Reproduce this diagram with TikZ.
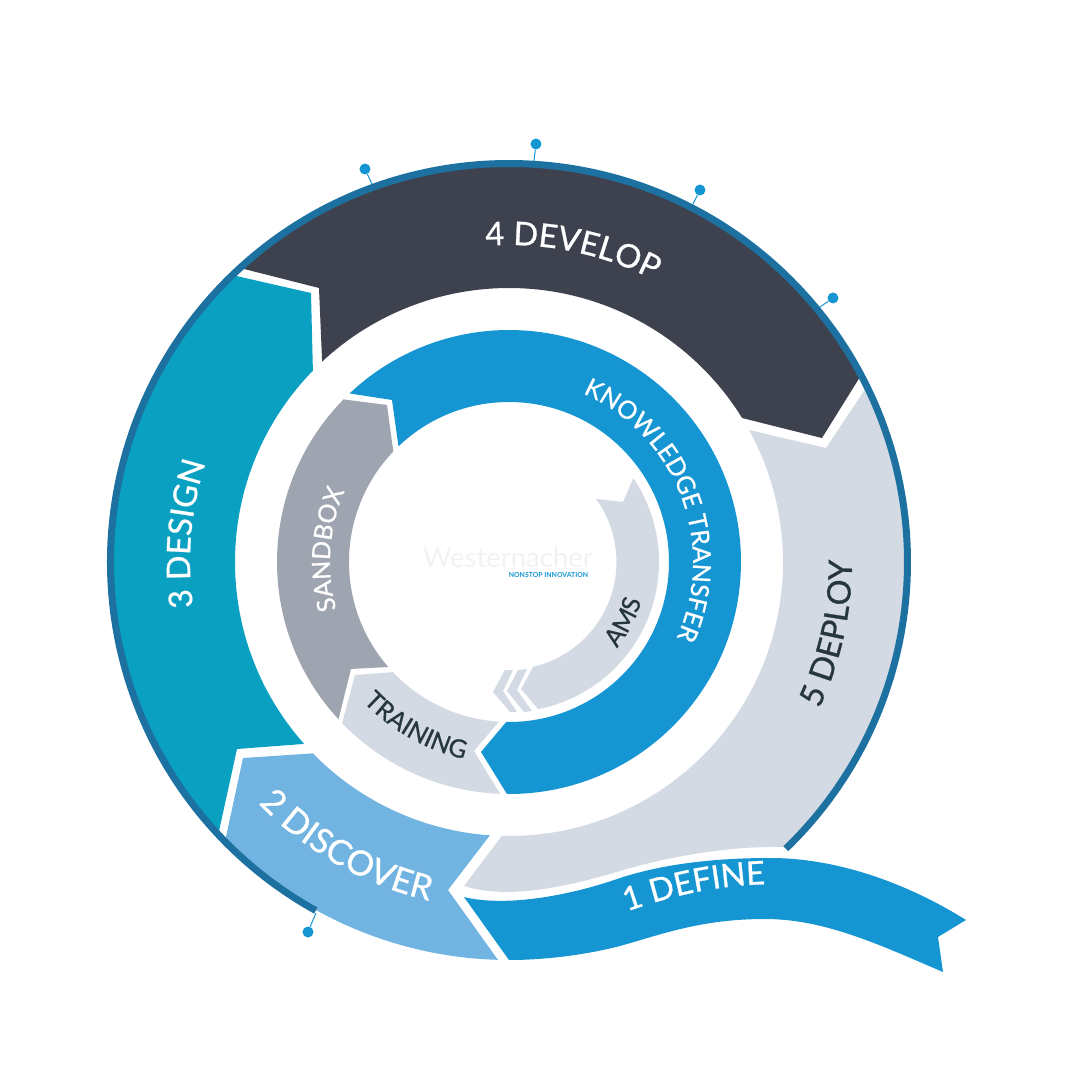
\documentclass[tikz,border=0pt]{standalone}
\usepackage{fontspec}
\setmainfont{Lato}
\newfontfamily\bandfont{Lato}[FakeBold=0.8]
\usetikzlibrary{decorations.text}

\definecolor{ringblue}{HTML}{1C71A1}
\definecolor{definecol}{HTML}{1596D2}
\definecolor{discovercol}{HTML}{72B4E1}
\definecolor{designcol}{HTML}{0AA0C2}
\definecolor{developcol}{HTML}{3E424F}
\definecolor{deploycol}{HTML}{D3DAE3}
\definecolor{sandboxcol}{HTML}{9EA4B0}
\definecolor{labeldark}{HTML}{26363F}

\newcommand{\bandlabel}[1]{|\bandfont\fontsize{32.5}{32}\selectfont\color{white}|#1}
\newcommand{\widebandlabel}[1]{|\bandfont\fontsize{34.5}{34}\selectfont\color{white}|#1}
\newcommand{\darkbandlabel}[1]{|\bandfont\fontsize{32.5}{32}\selectfont\color{labeldark}|#1}
\newcommand{\innerlabel}[1]{|\bandfont\fontsize{25}{25}\selectfont\color{white}|#1}
\newcommand{\darkinnerlabel}[1]{|\bandfont\fontsize{25}{25}\selectfont\color{labeldark}|#1}

\tikzset{
    pindot/.style={circle, fill=definecol, inner sep=0pt, minimum size=11pt},
    pinline/.style={draw=definecol, line width=1pt},
}

\begin{document}
\begin{tikzpicture}[x=1pt, y=1pt]
    \useasboundingbox (-509,-518) rectangle (571,562);

    % Draw the outer band
    \fill[definecol] (-45,-335) .. controls (-9,-344) and (51,-337) .. (111,-316)
        .. controls (151,-303) and (201,-296) .. (261,-296)
        .. controls (331,-296) and (401,-323) .. (457,-358)
        -- (429,-375) -- (434,-410)
        .. controls (371,-383) and (316,-357) .. (256,-357)
        .. controls (191,-357) and (151,-373) .. (111,-384)
        .. controls (76,-393) and (36,-398) .. (0,-398) -- cycle;
    \fill[discovercol] (-266,-196) -- (224.3:274)
        arc[start angle=224.3, end angle=266, radius=274pt]
        -- (-61,-328) -- (268.4:398)
        arc[start angle=268.4, end angle=224.5, radius=398pt] -- cycle;
    \fill[designcol] (133.9:398) -- (-198,269) -- (135.7:274)
        arc[start angle=135.7, end angle=221.6, radius=274pt]
        -- (-272,-187) -- (223.1:398)
        arc[start angle=223.1, end angle=133.9, radius=398pt] -- cycle;
    \fill[developcol] (31.7:274)
        arc[start angle=31.7, end angle=133, radius=274pt]
        -- (-190,274) -- (132.4:398)
        arc[start angle=132.4, end angle=27.9, radius=398pt]
        -- (313,124) -- cycle;
    \fill[deploycol] (-91.5:274)
        arc[start angle=-91.5, end angle=28.8, radius=274pt]
        -- (317,114) -- (25.9:396)
        arc[start angle=25.9, end angle=-46, radius=396pt]
        .. controls (221,-284) and (161,-294) .. (111,-309)
        .. controls (51,-327) and (-4,-337) .. (-45,-324) -- cycle;

    % Draw the ring round the outer band
    \draw[ringblue, line width=7pt] (-46:398.5)
        arc[start angle=-46, end angle=241, radius=398.5pt];

    % Draw the inner band
    \fill[definecol] (133.4:232) -- (-117,162) -- (133.7:160)
        arc[start angle=133.7, end angle=-91, radius=160pt]
        -- (-28,-190) -- (-90.5:232)
        arc[start angle=-90.5, end angle=133.4, radius=232pt] -- cycle;
    \fill[sandboxcol] (135.5:232) -- (-122,157) -- (136.3:160)
        arc[start angle=136.3, end angle=221, radius=160pt]
        -- (-158,-107) -- (222.7:232)
        arc[start angle=222.7, end angle=135.5, radius=232pt] -- cycle;
    \fill[deploycol] (-154,-113) -- (223.5:160)
        arc[start angle=223.5, end angle=266.4, radius=160pt]
        -- (-35,-189) -- (267.8:232)
        arc[start angle=267.8, end angle=224, radius=232pt] -- cycle;

    % Draw the small arrow and its chevrons
    \fill[deploycol] (34:150) -- (114,60) -- (36:107.5)
        arc[start angle=36, end angle=-77, radius=107.5pt]
        -- (12,-127) -- (-78.8:150)
        arc[start angle=-78.8, end angle=34, radius=150pt] -- cycle;
    \fill[deploycol] (-4,-108) -- (4,-108) -- (-6,-129) -- (8,-150) -- (1,-150) -- (-16,-130) -- cycle;
    \fill[deploycol] (9,-108) -- (18,-107) -- (8,-128) -- (23,-149) -- (15,-150) -- (-2,-129) -- cycle;

    % Draw the pins on the ring
    \node[pindot] (pinA) at (-144,393) {};
    \node[pindot] (pinB) at (27,418) {};
    \node[pindot] (pinC) at (191,372) {};
    \node[pindot] (pinD) at (324,264) {};
    \node[pindot] (pinE) at (-201,-370) {};
    \coordinate (baseA) at (-137,378);
    \coordinate (baseB) at (25,401);
    \coordinate (baseC) at (184,358);
    \coordinate (baseD) at (311,255);
    \coordinate (baseE) at (-193,-351);
    \foreach \p in {A,B,C,D,E} {
        \draw[pinline] (pin\p) -- (base\p);
    }

    % Label the outer band
    \path[decorate, decoration={text along path, text align=center, text={\bandlabel{4 DEVELOP}}}]
        (108.5:317) arc[start angle=108.5, end angle=48.5, radius=317pt];
    \path[decorate, decoration={text along path, text align=center, text={\bandlabel{3 DESIGN}}}]
        (200:319) arc[start angle=200, end angle=150, radius=319pt];
    \path[decorate, decoration={text along path, text align=center, text={\darkbandlabel{5 DEPLOY}}}]
        (-35:343) arc[start angle=-35, end angle=10, radius=343pt];
    \path[decorate, decoration={text along path, text align=center, text={\widebandlabel{2 DISCOVER}}}]
        (215.3:348) arc[start angle=215.3, end angle=265.3, radius=348pt];
    \path[decorate, decoration={text along path, text align=center, text={\bandlabel{1 DEFINE}}}]
        (105,-354) .. controls (150,-338) and (200,-322) .. (270,-322);

    % Label the inner band
    \path[decorate, decoration={text along path, text align=center, text={\innerlabel{KNOWLEDGE TRANSFER}}}]
        (76:184) arc[start angle=76, end angle=-34, radius=184pt];
    \path[decorate, decoration={text along path, text align=center, text={\innerlabel{SANDBOX}}}]
        (206:179) arc[start angle=206, end angle=146, radius=179pt];
    \path[decorate, decoration={text along path, text align=center, text={\darkinnerlabel{TRAINING}}}]
        (218:202) arc[start angle=218, end angle=263, radius=202pt];
    \path[decorate, decoration={text along path, text align=center, text={\darkinnerlabel{AMS}}}]
        (-52.5:138) arc[start angle=-52.5, end angle=-2.5, radius=138pt];

    % Draw the logo in the middle
    \node[text=black!5, font=\fontsize{27.5}{27.5}\selectfont, inner sep=0pt] (logoname) at (-1,5) {Westernacher};
    \node[text=definecol, font=\fontsize{6.9}{6.9}\selectfont\bfseries, inner sep=0pt] (logotag) at (39.5,-13) {NONSTOP INNOVATION};
\end{tikzpicture}
\end{document}
